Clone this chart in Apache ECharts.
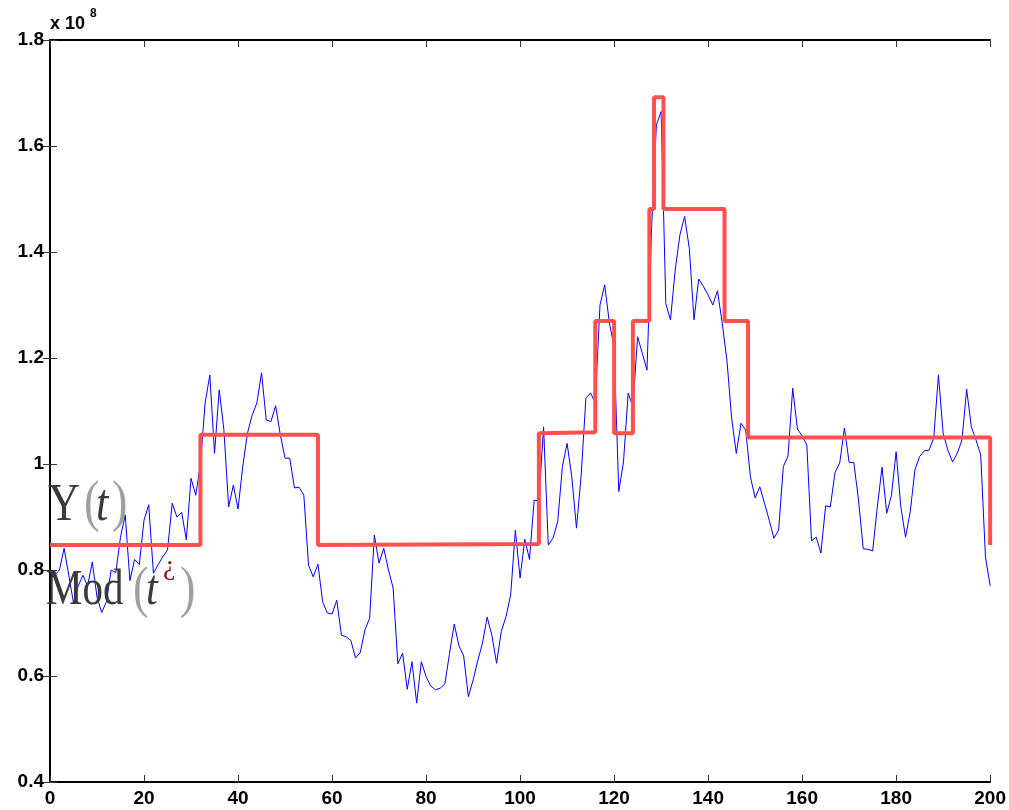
<!DOCTYPE html>
<html>
<head>
<meta charset="utf-8">
<script src="https://cdn.jsdelivr.net/npm/echarts@6/dist/echarts.min.js"></script>
<style>
  html, body { margin: 0; padding: 0; background: #fff; }
  #main { width: 1009px; height: 810px; }
</style>
</head>
<body>
<div id="main"></div>
<script>
// Y(t) signal, one value per t = 0..200 (units of 1e8)
var signalY = [
  0.785, 0.79, 0.80, 0.841, 0.79, 0.738, 0.77, 0.79, 0.77, 0.815,
  0.749, 0.72, 0.74, 0.80, 0.795, 0.862, 0.904, 0.78, 0.82, 0.81,
  0.894, 0.923, 0.794, 0.81, 0.825, 0.838, 0.926, 0.90, 0.909, 0.857,
  0.973, 0.941, 1.00, 1.115, 1.168, 1.02, 1.14, 1.064, 0.919, 0.96,
  0.915, 0.995, 1.058, 1.092, 1.115, 1.172, 1.083, 1.08, 1.11, 1.055,
  1.011, 1.011, 0.955, 0.956, 0.941, 0.809, 0.787, 0.811, 0.74, 0.719,
  0.717, 0.743, 0.677, 0.674, 0.667, 0.634, 0.644, 0.687, 0.709, 0.866,
  0.813, 0.841, 0.80, 0.766, 0.623, 0.643, 0.575, 0.627, 0.549, 0.627,
  0.599, 0.581, 0.574, 0.577, 0.585, 0.643, 0.698, 0.657, 0.638, 0.561,
  0.592, 0.629, 0.662, 0.711, 0.677, 0.624, 0.684, 0.712, 0.753, 0.875,
  0.785, 0.858, 0.82, 0.932, 0.93, 1.07, 0.847, 0.860, 0.891, 0.995,
  1.039, 0.976, 0.879, 0.979, 1.124, 1.134, 1.115, 1.30, 1.338, 1.266,
  1.221, 0.948, 1.004, 1.134, 1.108, 1.24, 1.209, 1.177, 1.45, 1.64,
  1.665, 1.303, 1.272, 1.366, 1.432, 1.467, 1.407, 1.272, 1.349, 1.335,
  1.319, 1.30, 1.327, 1.266, 1.196, 1.087, 1.02, 1.077, 1.064, 0.976,
  0.936, 0.957, 0.926, 0.894, 0.86, 0.875, 0.995, 1.015, 1.143, 1.066,
  1.053, 1.036, 0.855, 0.862, 0.832, 0.921, 0.919, 0.984, 1.002, 1.068,
  1.003, 1.003, 0.932, 0.840, 0.839, 0.836, 0.919, 0.994, 0.907, 0.941,
  1.023, 0.919, 0.862, 0.91, 0.989, 1.014, 1.025, 1.026, 1.049, 1.168,
  1.058, 1.026, 1.004, 1.02, 1.045, 1.141, 1.07, 1.045, 1.017, 0.825,
  0.77
];

// piecewise-constant model Mod(t): corner points
var modT = [0, 32, 32, 57, 57, 104, 104, 116, 116, 120, 120, 124, 124, 127.5, 127.5,
            128.5, 128.5, 130.5, 130.5, 143.5, 143.5, 148.5, 148.5, 200, 200];
var modY = [0.847, 0.847, 1.055, 1.055, 0.847, 0.849, 1.058, 1.060, 1.270, 1.270, 1.058, 1.058, 1.270, 1.270, 1.481,
            1.481, 1.692, 1.692, 1.481, 1.481, 1.270, 1.270, 1.050, 1.050, 0.847];

var xMin = 0, xMax = 200, xStep = 20;
var yMin = 0.4, yMax = 1.8, yStep = 0.2;

var signalData = signalY.map(function (v, i) { return [i, v]; });
var modData = modT.map(function (t, i) { return [t, modY[i]]; });

var chart = echarts.init(document.getElementById("main"));

var tickFont = { color: "#000", fontFamily: "Liberation Sans", fontWeight: "bold", fontSize: 19 };

var option = {
  animation: false,
  backgroundColor: "#fff",
  grid: { left: 50, right: 18, top: 40, bottom: 28 },
  xAxis: [
    {
      type: "value", min: xMin, max: xMax, interval: xStep,
      axisLine: { lineStyle: { color: "#000", width: 2 } },
      axisTick: { inside: true, length: 7, lineStyle: { color: "#333", width: 1 } },
      axisLabel: Object.assign({ margin: 7 }, tickFont),
      splitLine: { show: false }
    },
    {
      type: "value", min: xMin, max: xMax, interval: xStep, position: "top",
      axisLine: { lineStyle: { color: "#000", width: 2 } },
      axisTick: { inside: true, length: 7, lineStyle: { color: "#333", width: 1 } },
      axisLabel: { show: false },
      splitLine: { show: false }
    }
  ],
  yAxis: [
    {
      type: "value", min: yMin, max: yMax, interval: yStep,
      axisLine: { show: true, lineStyle: { color: "#000", width: 2 } },
      axisTick: { show: true, inside: true, length: 7, lineStyle: { color: "#333", width: 1 } },
      axisLabel: Object.assign({
        margin: 6,
        formatter: function (v) { return String(parseFloat(v.toFixed(1))); }
      }, tickFont),
      splitLine: { show: false }
    },
    {
      type: "value", min: yMin, max: yMax, interval: yStep, position: "right",
      axisLine: { show: true, lineStyle: { color: "#000", width: 2 } },
      axisTick: { show: true, inside: true, length: 7, lineStyle: { color: "#333", width: 1 } },
      axisLabel: { show: false },
      splitLine: { show: false }
    }
  ],
  series: [
    {
      name: "Y(t)",
      type: "line",
      data: signalData,
      showSymbol: false,
      lineStyle: { color: "#0000ff", width: 1 },
      z: 2
    },
    {
      name: "Mod(t)",
      type: "line",
      data: modData,
      showSymbol: false,
      lineStyle: { color: "#ff5050", width: 4 },
      z: 3
    }
  ],
  graphic: [
    { type: "text", x: 50, y: 15, style: { text: "x 10", font: "bold 18px Liberation Sans", fill: "#000" } },
    { type: "text", x: 90, y: 8, style: { text: "8", font: "bold 12px Liberation Sans", fill: "#000" } },

    { type: "text", x: 48, y: 480, scaleX: 0.85, style: { text: "Y", font: "52px Liberation Serif", fill: "#3a3a3a" }, z: 10 },
    { type: "text", x: 84, y: 476, scaleX: 0.8, style: { text: "(", font: "58px Liberation Serif", fill: "#a0a0a0" }, z: 10 },
    { type: "text", x: 96, y: 480, scaleX: 0.85, style: { text: "t", font: "italic 52px Liberation Serif", fill: "#3a3a3a" }, z: 10 },
    { type: "text", x: 112, y: 476, scaleX: 0.8, style: { text: ")", font: "58px Liberation Serif", fill: "#a0a0a0" }, z: 10 },

    { type: "text", x: 46, y: 566, scaleX: 0.82, style: { text: "Mod", font: "50px Liberation Serif", fill: "#3a3a3a" }, z: 10 },
    { type: "text", x: 133, y: 562, scaleX: 0.8, style: { text: "(", font: "58px Liberation Serif", fill: "#a0a0a0" }, z: 10 },
    { type: "text", x: 146, y: 566, scaleX: 0.85, style: { text: "t", font: "italic 50px Liberation Serif", fill: "#3a3a3a" }, z: 10 },
    { type: "text", x: 163, y: 553, style: { text: "\u00bf", font: "28px Liberation Serif", fill: "#8b1010" }, z: 10 },
    { type: "text", x: 180, y: 562, scaleX: 0.8, style: { text: ")", font: "58px Liberation Serif", fill: "#a0a0a0" }, z: 10 }
  ]
};

chart.setOption(option);
</script>
</body>
</html>
